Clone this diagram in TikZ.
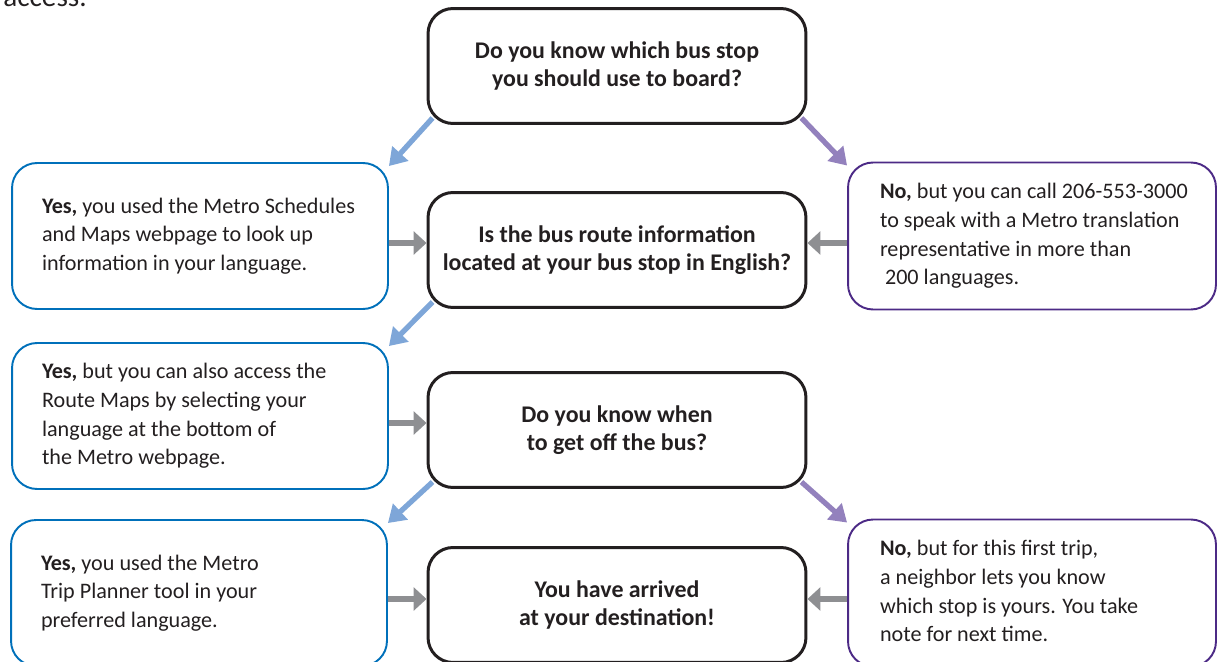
\documentclass[tikz,border=0pt]{standalone}
\usepackage{fontspec}
\setmainfont{Carlito}
\usetikzlibrary{arrows.meta,calc}
\definecolor{ink}{RGB}{35,31,32}
\definecolor{yesblue}{RGB}{0,112,186}
\definecolor{yesarrow}{RGB}{126,166,216}
\definecolor{nopurple}{RGB}{76,42,134}
\definecolor{noarrow}{RGB}{147,129,189}
\definecolor{grayarrow}{RGB}{142,143,146}
\newcommand{\sidetext}[2]{\makebox[#1][l]{\begin{tabular}{@{}l@{}}#2\end{tabular}}}

\begin{document}
\begin{tikzpicture}[x=0.02cm,y=-0.02cm,
    every node/.style={text=ink,font=\fontsize{12.6pt}{16.3pt}\selectfont},
    qbox/.style={draw=ink,line width=1.7pt,rounded corners=0.5cm,minimum width=7.56cm,minimum height=2.3cm,align=center,font=\fontsize{13.6pt}{16.3pt}\selectfont\bfseries},
    yesbox/.style={draw=yesblue,line width=1.1pt,rounded corners=0.5cm,minimum width=7.52cm,minimum height=2.92cm,inner xsep=0.6cm},
    nobox/.style={draw=nopurple,line width=1.1pt,rounded corners=0.5cm,minimum width=7.36cm,minimum height=2.94cm,inner xsep=0.64cm},
    yesline/.style={draw=yesarrow,line width=3pt,-{Triangle[length=0.34cm,width=0.42cm]}},
    noline/.style={draw=noarrow,line width=3pt,-{Triangle[length=0.34cm,width=0.42cm]}},
    grayline/.style={draw=grayarrow,line width=3pt,-{Triangle[length=0.26cm,width=0.46cm]}}]
    \useasboundingbox (0,0) rectangle (1217,662);

%    \draw[gray!30, thin, step=50] (0,0) grid (1217,662);
    \node[anchor=base west,inner sep=0,font=\fontsize{16.6pt}{20pt}\selectfont] (access) at (3,7) {access.};

    \node[qbox] (q1) at (617,66) {Do you know which bus stop\\you should use to board?};
    \node[qbox] (q2) at (617,250) {Is the bus route information\\located at your bus stop in English?};
    \node[qbox] (q3) at (617,430) {Do you know when\\to get off the bus?};
    \node[qbox] (q4) at (617,605) {You have arrived\\at your destination!};

    \node[yesbox] (yes1) at (200,236) {\sidetext{6.32cm}{\textbf{Yes,} you used the Metro Schedules\\and Maps webpage to look up\\information in your language.}};
    \node[yesbox] (yes2) at (200,416) {\sidetext{6.32cm}{\textbf{Yes,} but you can also access the\\Route Maps by selecting your\\language at the bottom of\\the Metro webpage.}};
    \node[yesbox] (yes3) at (199,593) {\sidetext{6.32cm}{\textbf{Yes,} you used the Metro\\Trip Planner tool in your\\preferred language.}};

    \node[nobox] (no1) at (1032,236) {\sidetext{6.08cm}{\textbf{No,} but you can call 206-553-3000\\to speak with a Metro translation\\representative in more than\\\ 200 languages.}};
    \node[nobox] (no2) at (1032,593) {\sidetext{6.08cm}{\textbf{No,} but for this first trip,\\a neighbor lets you know\\which stop is yours. You take\\note for next time.}};

%    diagonal answers
    \draw[yesline] ([shift={(6,-7)}]q1.south west) -- ([shift={(0,4)}]yes1.north east);
    \draw[noline] ([shift={(-6,-7)}]q1.south east) -- ([shift={(0,4)}]no1.north west);
    \draw[yesline] ([shift={(6,-7)}]q2.south west) -- ([shift={(0,4)}]yes2.north east);
    \draw[yesline] ([shift={(6,-7)}]q3.south west) -- ([shift={(0,4)}]yes3.north east);
    \draw[noline] ([shift={(-6,-7)}]q3.south east) -- ([shift={(0,4)}]no2.north west);

%    back to the questions
    \coordinate (m1) at ($(yes1)!.5!(q2)$);
    \coordinate (m2) at ($(yes2)!.5!(q3)$);
    \coordinate (m3) at ($(yes3)!.5!(q4)$);
    \draw[grayline] (yes1.east |- m1) -- (q2.west |- m1);
    \draw[grayline] (no1.west |- m1) -- (q2.east |- m1);
    \draw[grayline] (yes2.east |- m2) -- (q3.west |- m2);
    \draw[grayline] (yes3.east |- m3) -- (q4.west |- m3);
    \draw[grayline] (no2.west |- m3) -- (q4.east |- m3);

\end{tikzpicture}
\end{document}
